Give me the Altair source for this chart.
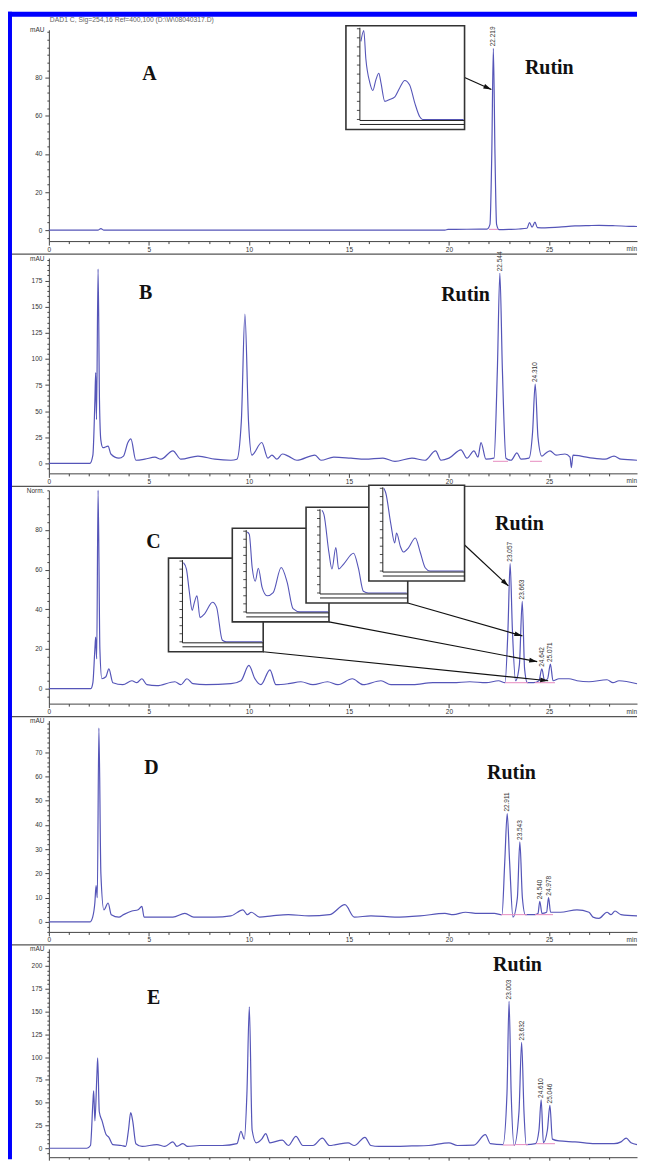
import math
import altair as alt
import pandas as pd

# ---------------- data ----------------
# Panel A chromatogram (time min, signal mAU)
A_t = [0, 2.45, 2.6, 2.75, 19.8, 19.95, 21.9, 22.05, 22.14, 22.219, 22.3, 22.38, 22.5, 23.0, 23.5, 23.9,
       24.03, 24.15, 24.3, 24.42, 24.8, 25.5, 26.3, 27.0, 27.5, 28.3, 29.0, 29.4]
A_v = [0, 0, 0.8, 0, 0, 0.4, 0.5, 3, 40, 95.5, 40, 3, 0.3, 0.4, 0.6, 1,
       4, 1.5, 4.2, 1.3, 1.2, 1.6, 2.2, 2.4, 2.5, 2.3, 2.0, 1.9]

B_t = [0, 2.05, 2.2, 2.3, 2.34, 2.38, 2.46, 2.53, 2.6, 2.7,
       2.96, 3.1, 3.5, 3.73, 3.95, 4.1, 4.35, 4.8, 5.3, 5.6,
       6.2, 6.6, 7.45, 8.3, 9.1, 9.4, 9.62, 9.8, 9.98, 10.15,
       10.64, 10.95, 11.15, 11.4, 11.67, 11.97, 12.4, 13.3, 13.6, 14.24,
       15.1, 15.8, 16.7, 17.3, 18.15, 18.8, 19.33, 19.6, 20.0, 20.6,
       20.9, 21.25, 21.45, 21.6, 21.85, 22.25, 22.42, 22.544, 22.67, 22.85,
       23.1, 23.4, 23.6, 24.0, 24.18, 24.31, 24.45, 24.64, 24.85, 25.05,
       25.35, 25.8, 26.05, 26.12, 26.2, 26.6, 27.2, 27.8, 28.25, 28.6, 29.4]
B_v = [0, 0, 8, 60, 87, 42, 186, 60, 22, 15,
       16.5, 9, 5, 7, 20, 23.5, 3, 4, 6, 4,
       12, 4, 7, 4, 3, 4, 40, 143, 40, 8,
       20, 5, 8, 4, 9, 7, 3, 8, 3, 6,
       5, 4, 5, 2, 5, 3, 12, 3, 5, 13,
       5, 12, 6, 20, 4, 5, 90, 182, 90, 5,
       3, 10, 4, 5, 30, 76, 25, 7, 10, 12,
       8, 9, 6, -4, 8, 7, 5, 4, 7, 4, 3]

C_t = [0, 2.1, 2.2, 2.3, 2.34, 2.39, 2.46, 2.55, 2.65, 2.85,
       3.0, 3.2, 3.7, 4.15, 4.4, 4.65, 4.9, 5.4, 6.3, 6.6,
       6.9, 7.2, 7.85, 9.1, 9.6, 10.0, 10.3, 10.6, 11.05, 11.35,
       11.97, 12.6, 13.2, 13.93, 14.45, 15.17, 15.7, 16.6, 17.1, 18.2,
       19.2, 20.2, 21.04, 21.86, 22.48, 22.8, 22.95, 23.057, 23.17, 23.33,
       23.52, 23.663, 23.78, 23.92, 24.23, 24.5, 24.642, 24.78, 24.93, 25.071,
       25.2, 25.5, 26.0, 26.4, 27.0, 27.9, 28.2, 28.5, 29.4]
C_v = [0, 0, 3, 20, 26, 15, 100, 20, 5, 6,
       10, 3, 2, 4, 3, 5, 2, 1.5, 3.5, 2,
       5, 2.5, 2, 2.5, 4, 11.7, 5, 2, 9.5, 2,
       2.5, 3.5, 2, 3.5, 2, 5, 2, 4, 2, 2,
       3, 3, 3.5, 3, 4, 3, 30, 63, 30, 4,
       12, 44, 10, 3, 3, 4, 10, 4, 5, 12.4,
       4, 5, 5, 4, 3.5, 4.5, 3, 4, 2.5]

D_t = [0, 2.05, 2.19, 2.3, 2.36, 2.42, 2.5, 2.6, 2.75, 2.96,
       3.12, 3.5, 3.73, 4.15, 4.46, 4.65, 4.76, 5.4, 6.2, 6.8,
       7.24, 8.27, 9.1, 9.7, 9.92, 10.12, 10.53, 11.15, 11.97, 13.0,
       14.03, 14.8, 15.27, 16.1, 17.3, 18.55, 19.8, 20.21, 20.83, 21.45,
       22.27, 22.65, 22.79, 22.911, 23.03, 23.2, 23.42, 23.543, 23.67, 23.82,
       24.29, 24.45, 24.54, 24.65, 24.88, 24.978, 25.08, 25.57, 26.4, 27.0,
       27.2, 27.5, 27.9, 28.1, 28.3, 28.6, 29.4]
D_v = [0, 0, 2, 8, 15, 10, 80, 20, 5, 7.8,
       3, 2, 3, 4.5, 5, 6.4, 2, 2, 2, 3.5,
       2, 2, 2.5, 5, 3, 4, 2, 2.5, 3, 2.5,
       3, 7.1, 2, 2.5, 2, 2.5, 3.5, 3, 4, 3.5,
       3.5, 3, 25, 44.7, 25, 2, 10, 33, 10, 3,
       3, 3.5, 8.5, 3.5, 4, 10, 4, 4, 5, 4,
       2, 1.5, 4, 3, 4.5, 3, 2.5]

E_t = [0, 1.9, 2.08, 2.2, 2.24, 2.3, 2.4, 2.44, 2.52, 2.66,
       2.86, 3.0, 3.2, 3.63, 3.84, 3.98, 4.09, 4.19, 4.35, 4.66,
       5.4, 5.8, 6.2, 6.4, 6.7, 6.93, 7.55, 8.68, 9.4, 9.6,
       9.77, 9.9, 10.02, 10.16, 10.37, 10.64, 10.84, 11.05, 11.67, 11.97,
       12.35, 12.7, 13.2, 13.67, 14.03, 14.34, 14.96, 15.27, 15.8, 16.1,
       16.5, 17.33, 18.15, 18.98, 20.0, 20.42, 21.25, 21.82, 22.07, 22.7,
       22.9, 23.003, 23.11, 23.26, 23.5, 23.632, 23.75, 23.86, 24.33, 24.5,
       24.61, 24.72, 24.92, 25.046, 25.17, 25.5, 26.3, 27.3, 28.25, 28.6,
       28.86, 29.1, 29.4]
E_v = [0, 0, 3, 50, 63, 30, 80, 99, 40, 30,
       15, 12, 4, 3, 2, 20, 39, 30, 5, 2,
       4, 2, 7, 2, 5, 2, 3, 3, 5, 18.5,
       10, 60, 155, 20, 6, 10, 16, 6, 9, 3,
       13, 3, 3, 11, 3, 4, 6, 3, 12, 3,
       2, 2, 2.5, 3, 6, 3, 3.5, 15, 5, 4,
       60, 161, 60, 3, 40, 116, 40, 4, 5, 20,
       53, 6, 20, 47, 10, 8, 7, 5, 5, 7,
       11, 6, 4]

# peak retention-time labels
A_pk_lab = ["22.219"]; A_pk_t = [22.219]; A_pk_v = [95.5]
B_pk_lab = ["22.544", "24.310"]; B_pk_t = [22.544, 24.310]; B_pk_v = [182, 76]
C_pk_lab = ["23.057", "23.663", "24.642", "25.071"]; C_pk_t = [23.057, 23.663, 24.642, 25.071]; C_pk_v = [63, 44, 10, 12.4]
D_pk_lab = ["22.911", "23.543", "24.540", "24.978"]; D_pk_t = [22.911, 23.543, 24.540, 24.978]; D_pk_v = [44.7, 33, 8.5, 10]
E_pk_lab = ["23.003", "23.632", "24.610", "25.046"]; E_pk_t = [23.003, 23.632, 24.610, 25.046]; E_pk_v = [161, 116, 53, 47]

# integration baselines (pink)
A_bl_t1 = [22.0]; A_bl_t2 = [22.45]; A_bl_v = [0.4]
B_bl_t1 = [22.2, 24.05]; B_bl_t2 = [22.95, 24.65]; B_bl_v = [2, 2]
C_bl_t1 = [22.8, 23.35, 24.3, 24.85]; C_bl_t2 = [23.35, 23.95, 24.85, 25.3]; C_bl_v = [3, 3, 3, 3]
D_bl_t1 = [22.6, 23.25, 24.3, 24.75]; D_bl_t2 = [23.25, 23.9, 24.75, 25.2]; D_bl_v = [3, 3, 3, 3]
E_bl_t1 = [22.7, 23.3, 24.35, 24.8]; E_bl_t2 = [23.3, 23.95, 24.8, 25.3]; E_bl_v = [3.5, 4, 5, 5]

# arrows (start -> end, in chromatogram units)
A_ar_t1 = [20.78]; A_ar_v1 = [80.1]; A_ar_t2 = [22.12]; A_ar_v2 = [73.8]
C_ar_t1 = [20.78, 17.94, 14.0, 10.71]; C_ar_v1 = [72.4, 43.2, 33.7, 18.6]
C_ar_t2 = [22.97, 23.67, 24.41, 24.96]; C_ar_v2 = [51.8, 26.6, 13.6, 4.0]

# UV spectra in insets (wavelength nm, relative absorbance)
SA_nm = [204, 215, 223, 238, 250, 262, 273, 281, 296, 315, 335, 354, 373, 392, 412, 431, 442, 600]
SA_ab = [86, 98, 67, 41, 32, 44, 51, 41, 20, 22, 25, 35, 43, 38, 18, 3, 0, 0]
S1_nm = [205, 220, 234, 249, 259, 273, 288, 312, 351, 371, 400, 420, 600]
S1_ab = [98, 90, 63, 39, 48, 57, 30, 35, 49, 43, 2, 0, 0]
S2_nm = [205, 215, 229, 244, 259, 278, 302, 332, 371, 400, 429, 463, 600]
S2_ab = [99, 96, 55, 38, 54, 30, 20, 24, 55, 37, 4, 0, 0]
S3_nm = [209, 218, 241, 255, 273, 286, 309, 355, 377, 400, 423, 600]
S3_ab = [100, 95, 49, 29, 55, 29, 35, 48, 30, 2, 0, 0]
S4_nm = [205, 215, 239, 259, 268, 288, 302, 327, 361, 385, 410, 434, 600]
S4_ab = [100, 94, 58, 34, 46, 29, 23, 28, 40, 23, 4, 0, 0]
INSET_TICKS = [0, 10, 20, 30, 40, 50, 60, 70, 80, 90, 100]

# axis tick labels
X_TICKS = [0, 5, 10, 15, 20, 25]
A_yticks = [0, 20, 40, 60, 80]
B_yticks = [0, 25, 50, 75, 100, 125, 150, 175]
C_yticks = [0, 20, 40, 60, 80]
D_yticks = [0, 10, 20, 30, 40, 50, 60, 70]
E_yticks = [0, 25, 50, 75, 100, 125, 150, 175, 200]

HEADER = "DAD1 C, Sig=254,16 Ref=400,100 (D:\\W\\08040317.D)"

# ---------------- style / layout ----------------
TRACE = "#5555b8"
PINK = "#e68cc0"
BLUE = "#0000ff"
AXC = "#444444"
TXT = "#333333"
W = 590
XMAX = 29.4
RIGHT = 590   # right end of decorations (px, plot coords)
ARROW_PATH = "M0,0L0.6,2L-0.6,2Z"


def one():
    return pd.DataFrame({"k": [0]})


def make_inset(box, nm, ab):
    l, t, r, b = box
    sx = alt.Scale(domain=[200, 600], range=[l + 14, r - 1], zero=False, nice=False)
    sy = alt.Scale(domain=[0, 100], range=[b - 10, t + 3], zero=False, nice=False)
    frame = alt.Chart(one()).mark_rect(fill="white", stroke="#333333", strokeWidth=1.6).encode(
        x=alt.value(l), x2=alt.value(r), y=alt.value(t), y2=alt.value(b))
    spec = alt.Chart(pd.DataFrame({"nm": nm, "a": ab})).mark_line(
        color=TRACE, strokeWidth=1.1, interpolate="monotone").encode(
        x=alt.X("nm:Q", scale=sx, axis=None), y=alt.Y("a:Q", scale=sy, axis=None))
    vax = alt.Chart(one()).mark_rule(color="#222222", strokeWidth=1).encode(
        x=alt.value(l + 14), y=alt.value(t + 2), y2=alt.value(b - 9))
    hax1 = alt.Chart(one()).mark_rule(color="#222222", strokeWidth=1).encode(
        x=alt.value(l + 14), x2=alt.value(r), y=alt.value(b - 9))
    hax2 = alt.Chart(one()).mark_rule(color="#222222", strokeWidth=1).encode(
        x=alt.value(l + 14), x2=alt.value(r), y=alt.value(b - 5))
    ticks = alt.Chart(pd.DataFrame({"a": INSET_TICKS})).mark_rule(color="#222222", strokeWidth=0.8).encode(
        x=alt.value(l + 11), x2=alt.value(l + 14), y=alt.Y("a:Q", scale=sy, axis=None))
    return alt.layer(frame, spec, vax, hax1, hax2, ticks)


def make_panel(t, v, H, ymin, ymax, yticks, yminor, ytitle,
               pk_lab, pk_t, pk_v, bl_t1, bl_t2, bl_v,
               letter, letter_xy, rutin_xy,
               arrows=None, insets=None, header=False, last=False):
    xs = alt.Scale(domain=[0, XMAX], nice=False, zero=False)
    ys = alt.Scale(domain=[ymin, ymax], nice=False, zero=False)
    xvals = list(range(0, 29))
    yvals = [k * yminor for k in range(math.ceil(ymin / yminor), math.floor(ymax / yminor) + 1)]
    xlist = "[" + ",".join(str(x) for x in X_TICKS) + "]"
    ylist = "[" + ",".join(str(y) for y in yticks) + "]"
    if last:
        xaxis = alt.Axis(values=xvals, title=None, grid=False, labels=False,
                         tickSize={"condition": {"test": f"indexof({xlist}, datum.value) >= 0", "value": 3}, "value": 2})
    else:
        xaxis = alt.Axis(values=xvals, title=None, grid=False,
                         labelExpr=f"indexof({xlist}, datum.value) >= 0 ? datum.label : ''",
                         tickSize={"condition": {"test": f"indexof({xlist}, datum.value) >= 0", "value": 4}, "value": 2.5},
                         labelPadding=1, labelFlush=False, labelOverlap=False)
    yaxis = alt.Axis(values=yvals, title=ytitle, grid=False,
                     labelExpr=f"indexof({ylist}, datum.value) >= 0 ? datum.label : ''",
                     tickSize={"condition": {"test": f"indexof({ylist}, datum.value) >= 0", "value": 4}, "value": 2},
                     labelPadding=3, labelOverlap=False,
                     titleAngle=0, titleAlign="right", titleBaseline="middle",
                     titleX=-5, titleY=0, titleFontSize=6.5, titleFontWeight="normal",
                     titleColor=TXT, titleFont="Liberation Sans")

    def X(f):
        return alt.X(f, type="quantitative", scale=xs, axis=xaxis)

    def Y(f):
        return alt.Y(f, type="quantitative", scale=ys, axis=yaxis)

    layers = []
    trace = alt.Chart(pd.DataFrame({"t": t, "v": v})).mark_line(
        color=TRACE, strokeWidth=1.2, interpolate="monotone").encode(x=X("t"), y=Y("v"))
    layers.append(trace)
    bl = alt.Chart(pd.DataFrame({"t1": bl_t1, "t2": bl_t2, "v": bl_v})).mark_rule(
        color=PINK, strokeWidth=1).encode(x=X("t1"), x2="t2:Q", y=Y("v"))
    layers.append(bl)
    pk = alt.Chart(pd.DataFrame({"lab": pk_lab, "t": pk_t, "v": pk_v})).mark_text(
        angle=270, align="left", baseline="middle", dx=2, fontSize=6.5,
        font="Liberation Sans", color=TXT).encode(x=X("t"), y=Y("v"), text="lab:N")
    layers.append(pk)
    if arrows is not None:
        t1, v1, t2, v2 = arrows
        sx = W / XMAX
        sy = H / (ymax - ymin)
        angs = []
        for a, b_, c, d in zip(t1, v1, t2, v2):
            dx = (c - a) * sx
            dy = -(d - b_) * sy
            angs.append(math.degrees(math.atan2(dx, -dy)) % 360)
        adf = pd.DataFrame({"t1": t1, "v1": v1, "t2": t2, "v2": v2, "ang": angs})
        layers.append(alt.Chart(adf).mark_rule(color="#111111", strokeWidth=1.2).encode(
            x=X("t1"), y=Y("v1"), x2="t2:Q", y2="v2:Q"))
        layers.append(alt.Chart(adf).mark_point(
            shape=ARROW_PATH, filled=True, size=64, color="#111111", opacity=1).encode(
            x=X("t2"), y=Y("v2"), angle=alt.Angle("ang:Q", scale=None)))
    # panel letter and compound name
    layers.append(alt.Chart(pd.DataFrame({"s": [letter]})).mark_text(
        font="Liberation Serif", fontWeight="bold", fontSize=20, color="#111111",
        align="center", baseline="alphabetic").encode(
        x=alt.value(letter_xy[0]), y=alt.value(letter_xy[1]), text="s:N"))
    layers.append(alt.Chart(pd.DataFrame({"s": ["Rutin"]})).mark_text(
        font="Liberation Serif", fontWeight="bold", fontSize=20, color="#111111",
        align="center", baseline="alphabetic").encode(
        x=alt.value(rutin_xy[0]), y=alt.value(rutin_xy[1]), text="s:N"))
    if not last:
        # "min" unit label
        layers.append(alt.Chart(pd.DataFrame({"s": ["min"]})).mark_text(
            fontSize=6.5, font="Liberation Sans", color=TXT, align="right", baseline="top").encode(
            x=alt.value(RIGHT), y=alt.value(H + 5), text="s:N"))
        # separator line
        layers.append(alt.Chart(one()).mark_rule(color="#555555", strokeWidth=1.2).encode(
            x=alt.value(-37), x2=alt.value(RIGHT), y=alt.value(H + 13)))
    if header:
        layers.append(alt.Chart(one()).mark_rect(color=BLUE).encode(
            x=alt.value(-41), x2=alt.value(RIGHT), y=alt.value(-18), y2=alt.value(-13)))
        layers.append(alt.Chart(one()).mark_rect(color=BLUE).encode(
            x=alt.value(-41), x2=alt.value(-37), y=alt.value(-18), y2=alt.value(1133)))
        layers.append(alt.Chart(pd.DataFrame({"s": [HEADER]})).mark_text(
            fontSize=6.8, font="Liberation Sans", color="#666666", align="left", baseline="middle").encode(
            x=alt.value(1), y=alt.value(-10), text="s:N"))
    main = alt.layer(*layers)
    if insets:
        panel = alt.layer(main, *insets).resolve_scale(x="independent", y="independent")
    else:
        panel = main
    return panel.properties(width=W, height=H)


pA = make_panel(A_t, A_v, 212, -5.76, 105.2, A_yticks, 4, "mAU",
                A_pk_lab, A_pk_t, A_pk_v, A_bl_t1, A_bl_t2, A_bl_v,
                "A", (101, 50), (502, 44),
                arrows=(A_ar_t1, A_ar_v1, A_ar_t2, A_ar_v2),
                insets=[make_inset((298, -4, 417, 100), SA_nm, SA_ab)], header=True)
pB = make_panel(B_t, B_v, 216, -9.54, 196.6, B_yticks, 5, "mAU",
                B_pk_lab, B_pk_t, B_pk_v, B_bl_t1, B_bl_t2, B_bl_v,
                "B", (97, 41), (418, 43))
pC = make_panel(C_t, C_v, 214, -7.54, 100, C_yticks, 4, "Norm.",
                C_pk_lab, C_pk_t, C_pk_v, C_bl_t1, C_bl_t2, C_bl_v,
                "C", (105, 58), (472, 40),
                arrows=(C_ar_t1, C_ar_v1, C_ar_t2, C_ar_v2),
                insets=[make_inset((120, 68, 215, 162), S1_nm, S1_ab),
                        make_inset((184, 38, 281, 132), S2_nm, S2_ab),
                        make_inset((258, 17, 360, 113), S3_nm, S3_ab),
                        make_inset((321, -5, 417, 91), S4_nm, S4_ab)])
pD = make_panel(D_t, D_v, 212, -4.12, 83.1, D_yticks, 2, "mAU",
                D_pk_lab, D_pk_t, D_pk_v, D_bl_t1, D_bl_t2, D_bl_v,
                "D", (103, 54), (464, 59))
pE = make_panel(E_t, E_v, 209, -9.8, 218.6, E_yticks, 5, "mAU",
                E_pk_lab, E_pk_t, E_pk_v, E_bl_t1, E_bl_t2, E_bl_v,
                "E", (105, 55), (470, 22), last=True)

chart = alt.vconcat(pA, pB, pC, pD, pE, spacing=17, bounds="flush").properties(
    padding={"left": 0, "top": 2, "right": 0, "bottom": 0},
    background="white",
).configure_view(stroke=None).configure_axis(
    domainColor=AXC, tickColor=AXC, labelColor=TXT, labelFont="Liberation Sans",
    labelFontSize=6.5, domainWidth=1, tickWidth=1)

chart.save("out.html", embed_options={"renderer": "svg", "actions": False})
